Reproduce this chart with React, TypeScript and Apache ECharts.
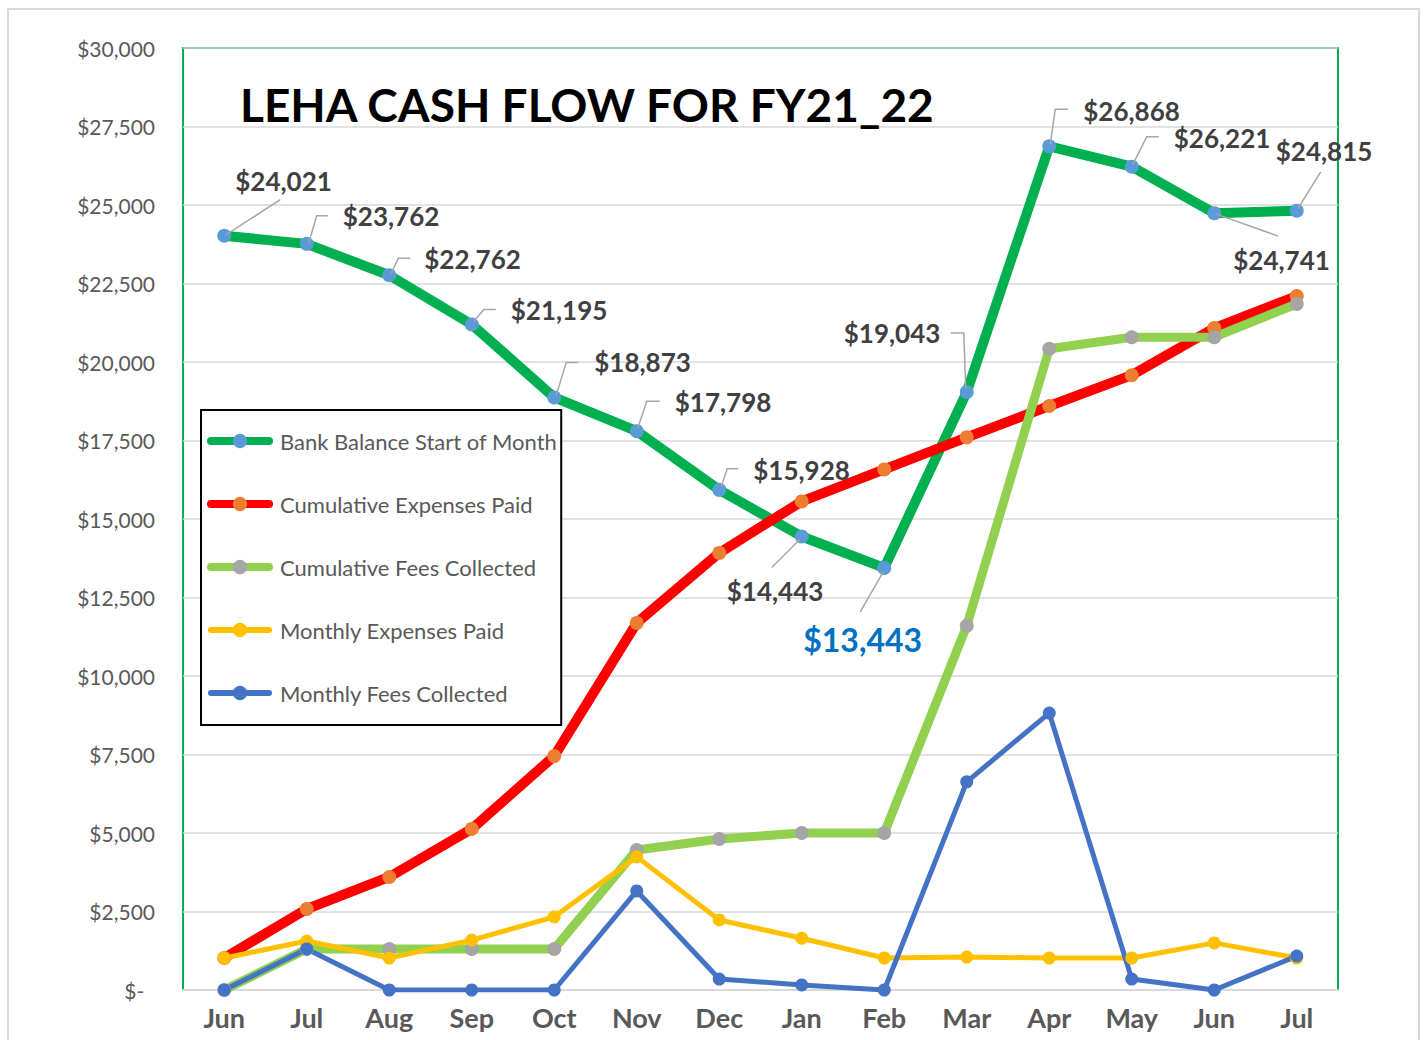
import React, { useEffect, useRef } from 'react';
import * as echarts from 'echarts';

const titleText = 'LEHA CASH FLOW FOR FY21_22';
const months = ['Jun', 'Jul', 'Aug', 'Sep', 'Oct', 'Nov', 'Dec', 'Jan', 'Feb', 'Mar', 'Apr', 'May', 'Jun', 'Jul'];
const bankBalance = [24021, 23762, 22762, 21195, 18873, 17798, 15928, 14443, 13443, 19043, 26868, 26221, 24741, 24815];
const cumulativeExpenses = [1019, 2580, 3600, 5130, 7450, 11690, 13920, 15560, 16580, 17600, 18600, 19580, 21080, 22100];
const cumulativeFees = [0, 1306, 1306, 1306, 1306, 4460, 4810, 5000, 5000, 11600, 20420, 20790, 20790, 21850];
const monthlyExpenses = [1019, 1560, 1019, 1590, 2330, 4240, 2230, 1650, 1019, 1050, 1019, 1019, 1500, 1019];
const monthlyFees = [0, 1306, 0, 0, 0, 3155, 350, 160, 0, 6630, 8820, 350, 0, 1080];
const seriesNames = [
  'Bank Balance Start of Month',
  'Cumulative Expenses Paid',
  'Cumulative Fees Collected',
  'Monthly Expenses Paid',
  'Monthly Fees Collected',
];

// label placement (pixel offsets relative to the data point) – layout only
const labelOffsets = [
  [11, -55], [36, -28], [35, -16], [39, -14], [40, -35], [38, -29], [34, -20],
  [-75, 55], [-81, 72], [-123, -59], [34, -35], [42, -29], [19, 47], [-21, -60],
];
const leaderOffsets = [
  [[2, -1], [56, -36]],
  [[2, -1], [10, -28], [21, -28]],
  [[2, -2], [9, -17], [21, -17]],
  [[2, -3], [12, -15], [24, -15]],
  [[2, -2], [12, -35], [24, -35]],
  [[1, -3], [10, -30], [23, -30]],
  [[2, -3], [8, -21], [19, -21]],
  [[-2, 3], [-30, 31]],
  [[-1, 4], [-24, 44]],
  [[-1, -3], [-3, -59], [-16, -59]],
  [[1, -2], [6, -37], [19, -37]],
  [[1, -2], [15, -30], [27, -30]],
  [[2, 1], [64, 23]],
  [[1, -2], [24, -39]],
];

const FONT = 'Lato, "Noto Sans", sans-serif';
const money = (v: number) => '$' + Math.round(v).toLocaleString('en-US');

export default function App() {
  const ref = useRef<HTMLDivElement>(null);

  useEffect(() => {
    if (!ref.current) return;
    const chart = echarts.init(ref.current, undefined, { renderer: 'svg' });
    const minIdx = bankBalance.indexOf(Math.min(...bankBalance));

    const lineSeries = (name: string, data: number[], lineColor: string, markColor: string, width: number, size: number) => ({
      name,
      type: 'line',
      data,
      symbol: 'circle',
      symbolSize: size,
      showAllSymbol: true,
      lineStyle: { color: lineColor, width, cap: 'round', join: 'round' },
      itemStyle: { color: markColor, borderWidth: 0 },
      emphasis: { disabled: true },
    });

    const legendWidths = [8, 8, 8, 6, 6];
    const legendColors = ['#00B050', '#FF0000', '#92D050', '#FFC000', '#4472C4'];

    chart.setOption({
      animation: false,
      backgroundColor: '#ffffff',
      textStyle: { fontFamily: FONT },
      graphic: [
        {
          type: 'rect',
          z: -10,
          shape: { x: 8, y: 9, width: 1411, height: 1100 },
          style: { fill: 'none', stroke: '#D9D9D9', lineWidth: 2 },
        },
        {
          type: 'text',
          x: 240,
          y: 104,
          z: 20,
          style: {
            text: titleText,
            fill: '#000000',
            fontSize: 46,
            fontWeight: 'bold',
            fontFamily: FONT,
            align: 'left',
            verticalAlign: 'middle',
          },
        },
      ],
      grid: {
        left: 183,
        right: 86,
        top: 48,
        bottom: 50,
        show: true,
        borderColor: '#00B050',
        borderWidth: 2,
        backgroundColor: 'transparent',
      },
      legend: {
        data: seriesNames.map((n, i) => ({
          name: n,
          lineStyle: { width: legendWidths[i], color: legendColors[i], cap: 'round' },
        })),
        orient: 'vertical',
        left: 201,
        top: 410,
        padding: [20, 4, 21, 6],
        itemGap: 41,
        itemWidth: 58,
        itemHeight: 18,
        borderColor: '#000000',
        borderWidth: 2,
        backgroundColor: '#ffffff',
        textStyle: { color: '#595959', fontSize: 22, fontFamily: FONT, padding: [0, 0, 0, 6] },
        selectedMode: false,
        z: 30,
      },
      xAxis: {
        type: 'category',
        data: months,
        boundaryGap: true,
        axisTick: { show: false },
        axisLine: { lineStyle: { color: '#D9D9D9', width: 2 } },
        axisLabel: { color: '#595959', fontSize: 27, fontWeight: 'bold', fontFamily: FONT, margin: 14, interval: 0 },
        splitLine: { show: false },
      },
      yAxis: {
        type: 'value',
        min: 0,
        max: 30000,
        interval: 2500,
        axisLine: { show: false },
        axisTick: { show: false },
        splitLine: { lineStyle: { color: '#D9D9D9', width: 1.5 } },
        axisLabel: {
          color: '#595959',
          fontSize: 21,
          fontFamily: FONT,
          margin: 28,
          formatter: (v: number) => (v === 0 ? '$-\u00a0\u00a0' : money(v)),
        },
      },
      series: [
        lineSeries(seriesNames[0], bankBalance, '#00B050', '#5B9BD5', 10, 14),
        lineSeries(seriesNames[1], cumulativeExpenses, '#FF0000', '#ED7D31', 10, 14),
        lineSeries(seriesNames[2], cumulativeFees, '#92D050', '#A5A5A5', 9, 14),
        lineSeries(seriesNames[3], monthlyExpenses, '#FFC000', '#FFC000', 5, 13),
        lineSeries(seriesNames[4], monthlyFees, '#4472C4', '#4472C4', 5, 13),
        {
          type: 'custom',
          z: 10,
          silent: true,
          data: bankBalance.map((v, i) => [i, v]),
          renderItem: (params: any, api: any) => {
            const i = params.dataIndex;
            const v = api.value(1);
            const pt = api.coord([api.value(0), v]);
            const off = labelOffsets[i];
            const lead = leaderOffsets[i];
            const isMin = i === minIdx;
            return {
              type: 'group',
              children: [
                {
                  type: 'polyline',
                  shape: { points: lead.map((p) => [pt[0] + p[0], pt[1] + p[1]]) },
                  style: { stroke: '#A6A6A6', lineWidth: 1.5, fill: null },
                },
                {
                  type: 'text',
                  x: pt[0] + off[0],
                  y: pt[1] + off[1],
                  style: {
                    text: money(v),
                    fill: isMin ? '#0070C0' : '#404040',
                    fontSize: isMin ? 32 : 26,
                    fontWeight: 'bold',
                    fontFamily: FONT,
                    align: 'left',
                    verticalAlign: 'middle',
                  },
                },
              ],
            };
          },
        },
      ],
    });

    return () => chart.dispose();
  }, []);

  return (
    <div
      ref={ref}
      style={{ position: 'absolute', left: 0, top: 0, width: 1424, height: 1040, background: '#fff' }}
    />
  );
}
